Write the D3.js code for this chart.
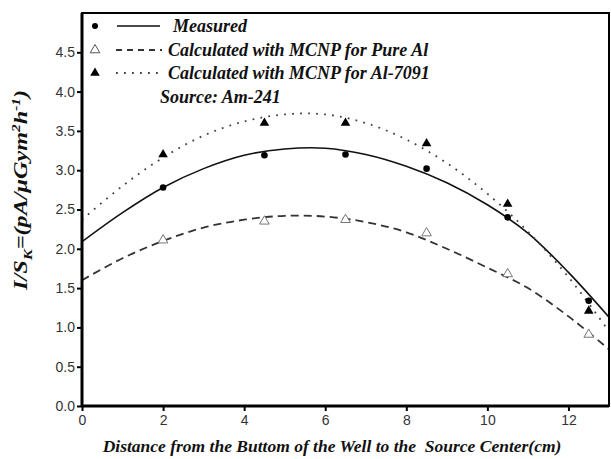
<!DOCTYPE html>
<html><head><meta charset="utf-8">
<script src="https://cdn.jsdelivr.net/npm/d3@7/dist/d3.min.js"></script>
<style>body{margin:0;background:#fff}svg{display:block}text{white-space:pre}</style>
</head><body>
<svg id="c" width="611" height="459"></svg>
<script>
// Data
const positions = [2, 4.5, 6.5, 8.5, 10.5, 12.5];
const measured   = [2.78, 3.19, 3.20, 3.02, 2.40, 1.34];
const pureAl     = [2.11, 2.35, 2.37, 2.20, 1.68, 0.91];
const al7091     = [3.20, 3.60, 3.60, 3.34, 2.57, 1.21];
// fitted curves
const fitX       = [0, 1, 2, 3, 4, 5, 6, 7, 8, 9, 10, 11, 12, 13];
const fitMeasured= [2.09, 2.46, 2.78, 3.02, 3.19, 3.27, 3.28, 3.20, 3.05, 2.84, 2.56, 2.20, 1.70, 1.13];
const fitPureAl  = [1.60, 1.88, 2.10, 2.27, 2.37, 2.42, 2.41, 2.34, 2.21, 2.00, 1.76, 1.50, 1.14, 0.72];
const fitAl7091  = [2.37, 2.80, 3.16, 3.44, 3.62, 3.71, 3.71, 3.60, 3.39, 3.09, 2.70, 2.22, 1.64, 0.95];
const xTicks = [0, 2, 4, 6, 8, 10, 12];
const yTicks = [0.0, 0.5, 1.0, 1.5, 2.0, 2.5, 3.0, 3.5, 4.0, 4.5];
const legendLabels = ["Measured", "Calculated with MCNP for Pure Al", "Calculated with MCNP for Al-7091"];
const sourceLabel = "Source: Am-241";
const xTitle = "Distance from the Buttom of the Well to the  Source Center(cm)";

const svg = d3.select("#c");
const L = 82, R = 609, T = 13, B = 406;
const x = d3.scaleLinear().domain([0, 13]).range([L, R]);
const y = d3.scaleLinear().domain([0, 5]).range([B, T]);

// curves
const line = d3.line().x(d => x(d[0])).y(d => y(d[1])).curve(d3.curveCatmullRom);
svg.append("clipPath").attr("id","pc").append("rect")
  .attr("x", L).attr("y", T).attr("width", R - L).attr("height", B - T);
const g = svg.append("g").attr("clip-path","url(#pc)");
g.append("path").attr("d", line(fitX.map((v,i)=>[v, fitMeasured[i]])))
  .attr("fill","none").attr("stroke","#111").attr("stroke-width",1.6);
g.append("path").attr("d", line(fitX.map((v,i)=>[v, fitPureAl[i]])))
  .attr("fill","none").attr("stroke","#333").attr("stroke-width",1.8).attr("stroke-dasharray","8,5");
g.append("path").attr("d", line(fitX.map((v,i)=>[v, fitAl7091[i]])))
  .attr("fill","none").attr("stroke","#444").attr("stroke-width",1.8)
  .attr("stroke-dasharray","1.8,6.2").attr("stroke-linecap","butt");

const tri = d3.symbol().type(d3.symbolTriangle).size(40);
// markers
positions.forEach((p,i)=>{
  svg.append("circle").attr("cx", x(p)).attr("cy", y(measured[i])).attr("r", 3.3).attr("fill","#000");
  svg.append("path").attr("d", tri).attr("transform", `translate(${x(p)},${y(al7091[i])})`).attr("fill","#000");
  svg.append("path").attr("d", tri).attr("transform", `translate(${x(p)},${y(pureAl[i])})`)
    .attr("fill","#fff").attr("stroke","#777").attr("stroke-width",1);
});

// axes
const xa = svg.append("g").attr("transform",`translate(0,${B})`)
  .call(d3.axisBottom(x).tickValues(xTicks).tickSize(5).tickPadding(4).tickFormat(d3.format("d")));
const ya = svg.append("g").attr("transform",`translate(${L},0)`)
  .call(d3.axisLeft(y).tickValues(yTicks).tickSize(5).tickPadding(2).tickFormat(d3.format(".1f")));
[xa, ya].forEach(a=>{
  a.select(".domain").remove();
  a.selectAll(".tick line").attr("stroke","#000").attr("stroke-width",2);
  a.selectAll(".tick text").attr("font-family","Liberation Sans, Arial, sans-serif")
    .attr("font-size",14).attr("fill","#333");
});
// frame
svg.append("rect").attr("x", L).attr("y", T).attr("width", R - L).attr("height", B - T)
  .attr("fill","none").attr("stroke","#000").attr("stroke-width",2);
svg.append("line").attr("x1",L).attr("x2",L).attr("y1",T).attr("y2",B+1).attr("stroke","#000").attr("stroke-width",3);
svg.append("line").attr("x1",L).attr("x2",R).attr("y1",B).attr("y2",B).attr("stroke","#000").attr("stroke-width",3);

// legend
const lf = "Liberation Serif, Times New Roman, serif";
const rows = [26, 50, 73];
const lx = 95;
svg.append("circle").attr("cx", lx).attr("cy", rows[0]).attr("r", 3).attr("fill","#000");
svg.append("path").attr("d", tri).attr("transform",`translate(${lx},${rows[1]})`).attr("fill","#fff").attr("stroke","#555");
svg.append("path").attr("d", tri).attr("transform",`translate(${lx},${rows[2]})`).attr("fill","#000");
svg.append("line").attr("x1",117).attr("x2",160).attr("y1",rows[0]).attr("y2",rows[0]).attr("stroke","#111").attr("stroke-width",1.6);
svg.append("line").attr("x1",116).attr("x2",162).attr("y1",rows[1]).attr("y2",rows[1]).attr("stroke","#333").attr("stroke-width",1.8).attr("stroke-dasharray","6,5");
svg.append("line").attr("x1",116).attr("x2",162).attr("y1",rows[2]).attr("y2",rows[2]).attr("stroke","#444").attr("stroke-width",1.8).attr("stroke-dasharray","1.8,6.2");
const ltx = [173, 168, 168];
legendLabels.forEach((t,i)=>{
  svg.append("text").attr("x", ltx[i]).attr("y", rows[i]+6).text(t)
    .attr("font-family", lf).attr("font-style","italic").attr("font-weight","bold").attr("font-size",18).attr("fill","#111");
});
svg.append("text").attr("x",160).attr("y",103).text(sourceLabel)
  .attr("font-family", lf).attr("font-style","italic").attr("font-weight","bold").attr("font-size",18).attr("fill","#111");

// x title
svg.append("text").attr("x", 332).attr("y", 452).attr("text-anchor","middle").text(xTitle)
  .attr("font-family", lf).attr("font-style","italic").attr("font-weight","bold").attr("font-size",17.5).attr("fill","#111");

// y title
const yt = svg.append("text").attr("transform","translate(27,190) rotate(-90)").attr("text-anchor","middle")
  .attr("font-family", lf).attr("font-style","italic").attr("font-weight","bold").attr("font-size",19).attr("fill","#111")
  .attr("textLength", 200).attr("lengthAdjust","spacingAndGlyphs");
yt.append("tspan").text("I/S");
yt.append("tspan").attr("font-size",13).attr("dy",5).text("K");
yt.append("tspan").attr("dy",-5).text("=(pA/μGym");
yt.append("tspan").attr("font-size",12).attr("dy",-7).text("2");
yt.append("tspan").attr("dy",7).text("h");
yt.append("tspan").attr("font-size",12).attr("dy",-7).text("-1");
yt.append("tspan").attr("dy",7).text(")");
</script>
</body></html>
